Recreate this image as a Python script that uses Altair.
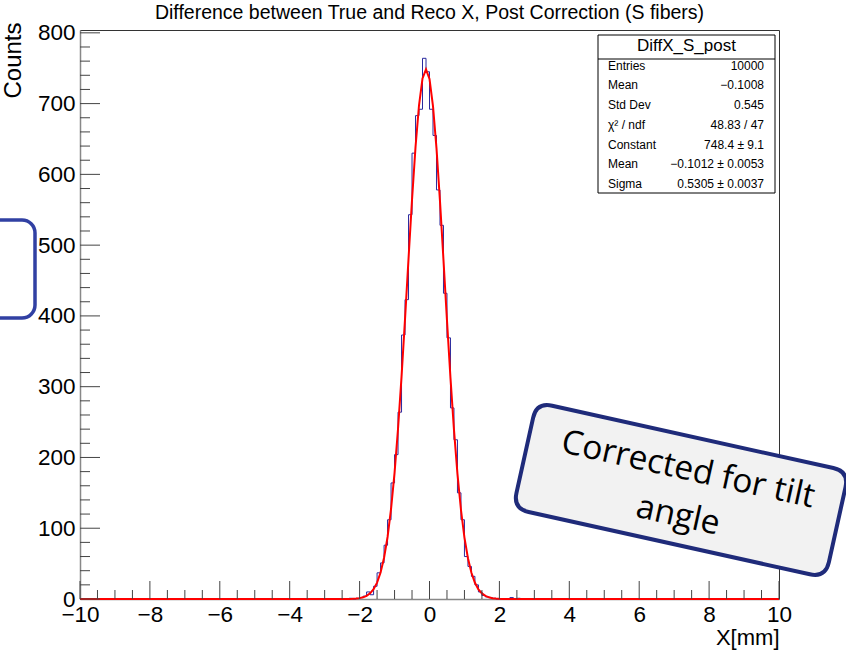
import altair as alt
import numpy as np
import pandas as pd

# ---------------- data ----------------
# Histogram of (true - reco) X: 200 bins of 0.1 mm from -10 to 10.
x_min, x_max = -10.0, 10.0
bin_width = 0.1
first_filled_edge = -2.5          # left edge of the first listed bin
filled_counts = [
    0, 0, 1, 0, 1, 2, 4, 10, 6, 18,
    37, 51, 76, 112, 164, 204, 264, 373, 423, 543,
    630, 683, 692, 764, 745, 692, 655, 578, 528, 432,
    369, 270, 225, 150, 112, 60, 46, 32, 20, 10,
    5, 3, 2, 1, 0, 0, 0, 0, 2, 0, 1,
]

# Gaussian fit result
fit_constant = 748.4
fit_mean = -0.1012
fit_sigma = 0.5305
fit_points = 201                 # samples used to draw the fitted function

# Statistics box
stats_name = "DiffX_S_post"
stats_labels = ["Entries", "Mean", "Std Dev", "\u03c7\u00b2 / ndf", "Constant", "Mean", "Sigma"]
stats_values = ["10000", "\u22120.1008", "0.545", "48.83 / 47", "748.4 \u00b1 9.1",
                "\u22120.1012 \u00b1 0.0053", "0.5305 \u00b1 0.0037"]

x_label_values = list(range(-10, 11, 2))
y_label_values = list(range(0, 801, 100))

title_text = "Difference between True and Reco X, Post Correction (S fibers)"
note_lines = ["Corrected for tilt", "angle"]

# ---------------- tables ----------------
n_bins = int(round((x_max - x_min) / bin_width))
counts = np.zeros(n_bins)
start = int(round((first_filled_edge - x_min) / bin_width))
counts[start:start + len(filled_counts)] = filled_counts
edges = np.round(x_min + bin_width * np.arange(n_bins + 1), 3)
hist_df = pd.DataFrame({"edge": edges, "count": np.append(counts, counts[-1])})

fx = np.linspace(x_min, x_max, fit_points)
fit_df = pd.DataFrame({
    "x": fx,
    "y": fit_constant * np.exp(-0.5 * ((fx - fit_mean) / fit_sigma) ** 2),
})

stats_df = pd.DataFrame({"label": stats_labels, "value": stats_values,
                         "row": range(len(stats_labels))})

x_major = [v for v in x_label_values]
x_minor = [v / 2 for v in range(-20, 21) if v % 4 != 0]
y_major = [v for v in y_label_values]
y_minor = [v for v in range(0, 801, 20) if v % 100 != 0]

# ---------------- chart ----------------
W, H = 699, 569
FONT = "Liberation Sans"
tick_color = "#444444"
xs = alt.Scale(domain=[x_min, x_max], nice=False, zero=False)
ys = alt.Scale(domain=[0, 804], nice=False, zero=True)

x_axis = alt.Axis(
    values=x_label_values, title="X[mm]", ticks=False, grid=False,
    domainColor="#888888", domainWidth=1.5,
    labelFont=FONT, labelFontSize=22.5, labelColor="black", labelPadding=4,
    labelFlush=False, labelOverlap=False, labelBound=False,
    titleFont=FONT, titleFontSize=22, titleFontWeight="normal", titleColor="black",
    titleX=W, titleY=45, titleAlign="right", titleBaseline="alphabetic",
)
y_axis = alt.Axis(
    values=y_label_values, title="Counts", ticks=False, grid=False,
    domainColor="#888888", domainWidth=1.5,
    labelFont=FONT, labelFontSize=22.5, labelColor="black", labelPadding=5,
    labelOverlap=False, labelBound=False, labelFlush=False,
    titleFont=FONT, titleFontSize=24, titleFontWeight="normal", titleColor="black",
    titleX=-79, titleY=-8, titleAngle=270, titleAlign="right", titleBaseline="top",
)

hist = alt.Chart(hist_df).mark_line(
    interpolate="step-after", color="#2a2a9e", strokeWidth=1
).encode(
    x=alt.X("edge:Q", scale=xs, axis=x_axis),
    y=alt.Y("count:Q", scale=ys, axis=y_axis),
)

fit = alt.Chart(fit_df).mark_line(color="#ff0000", strokeWidth=2).encode(
    x=alt.X("x:Q", scale=xs, axis=x_axis),
    y=alt.Y("y:Q", scale=ys, axis=y_axis),
)


def x_ticks(values, length):
    return alt.Chart(pd.DataFrame({"v": values})).mark_rule(
        color=tick_color, strokeWidth=1
    ).encode(x=alt.X("v:Q", scale=xs, axis=x_axis), y=alt.value(H), y2=alt.value(H - length))


def y_ticks(values, length):
    return alt.Chart(pd.DataFrame({"v": values})).mark_rule(
        color=tick_color, strokeWidth=1
    ).encode(y=alt.Y("v:Q", scale=ys, axis=y_axis), x=alt.value(0), x2=alt.value(length))


one = pd.DataFrame({"k": [0]})

# statistics box
box_l, box_r, box_t, box_b = 518, 695, 5, 163
stats_box = alt.Chart(one).mark_rect(fill="white", stroke="black", strokeWidth=1).encode(
    x=alt.value(box_l), x2=alt.value(box_r), y=alt.value(box_t), y2=alt.value(box_b))
stats_sep = alt.Chart(one).mark_rule(color="black", strokeWidth=1).encode(
    x=alt.value(box_l), x2=alt.value(box_r), y=alt.value(29))
stats_head = alt.Chart(one).mark_text(
    text=stats_name, font=FONT, fontSize=17, align="center", baseline="middle", color="black"
).encode(x=alt.value((box_l + box_r) / 2), y=alt.value(16))
stats_left = alt.Chart(stats_df).transform_calculate(
    py="35.7 + datum.row * 19.7"
).mark_text(font=FONT, fontSize=12, align="left", baseline="middle", color="black").encode(
    x=alt.value(528), y=alt.Y("py:Q", scale=None), text="label:N")
stats_right = alt.Chart(stats_df).transform_calculate(
    py="35.7 + datum.row * 19.7"
).mark_text(font=FONT, fontSize=12, align="right", baseline="middle", color="black").encode(
    x=alt.value(684), y=alt.Y("py:Q", scale=None), text="value:N")

# callout boxes
left_callout = alt.Chart(one).mark_rect(
    fill="white", stroke="#3140a3", strokeWidth=3.5, cornerRadius=13
).encode(x=alt.value(-130), x2=alt.value(-45), y=alt.value(190), y2=alt.value(288))

rounded = ("M -0.9 -0.34 L 0.9 -0.34 Q 1 -0.34 1 -0.24 L 1 0.24 Q 1 0.34 0.9 0.34 "
           "L -0.9 0.34 Q -1 0.34 -1 0.24 L -1 -0.24 Q -1 -0.34 -0.9 -0.34 Z")
note_box = alt.Chart(one).mark_point(
    shape=rounded, size=320 ** 2, angle=12.5, filled=True, fill="#f2f2f2",
    stroke="#1f2b7a", strokeWidth=4, opacity=1
).encode(x=alt.value(601), y=alt.value(460))
note_l1 = alt.Chart(one).mark_text(
    text=note_lines[0], font="Open Sans", fontSize=33.5, angle=12.5, align="center",
    baseline="middle", color="black"
).encode(x=alt.value(608), y=alt.value(440))
note_l2 = alt.Chart(one).mark_text(
    text=note_lines[1], font="Open Sans", fontSize=33.5, angle=12.5, align="center",
    baseline="middle", color="black"
).encode(x=alt.value(598), y=alt.value(486))

chart = alt.layer(
    hist, fit,
    x_ticks(x_major, 18), x_ticks(x_minor, 9),
    y_ticks(y_major, 20), y_ticks(y_minor, 10),
    stats_box, stats_sep, stats_head, stats_left, stats_right,
    left_callout, note_box, note_l1, note_l2,
).properties(
    width=W, height=H,
    title=alt.TitleParams(title_text, font=FONT, fontSize=19.5, fontWeight="normal",
                          color="black", anchor="middle", frame="group", offset=8, dy=10),
    padding={"left": 80, "top": 30, "right": 67, "bottom": 53},
    autosize=alt.AutoSizeParams(type="none"),
    background="white",
).configure_view(stroke="#333333", strokeWidth=1)

chart.save("out.html", embed_options={"renderer": "svg", "actions": False})
